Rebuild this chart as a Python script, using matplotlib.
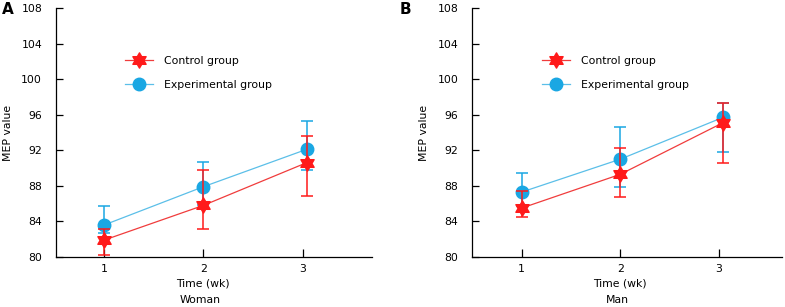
import numpy as np
import matplotlib
matplotlib.use("Agg")
import matplotlib.pyplot as plt
from matplotlib.path import Path
from matplotlib.lines import Line2D
import matplotlib.transforms as mtransforms

# ---- data ----
weeks = [1, 2, 3.04]
tick_weeks = [1, 2, 3]

# Panel A (Woman)
a_ctrl = [81.9, 85.8, 90.6]
a_ctrl_lo = [80.2, 83.1, 86.9]
a_ctrl_hi = [83.1, 89.8, 93.6]
a_exp = [83.6, 87.9, 92.1]
a_exp_lo = [82.7, 85.9, 89.8]
a_exp_hi = [85.7, 90.7, 95.3]

# Panel B (Man)
b_ctrl = [85.5, 89.3, 95.1]
b_ctrl_lo = [84.5, 86.8, 90.6]
b_ctrl_hi = [87.4, 92.3, 97.3]
b_exp = [87.3, 91.0, 95.7]
b_exp_lo = [85.7, 87.9, 91.8]
b_exp_hi = [89.4, 94.6, 97.3]

yticks = [80, 84, 88, 92, 96, 100, 104, 108]
series_labels = ["Control group", "Experimental group"]
panel_letters = ["A", "B"]
panel_names = ["Woman", "Man"]
xlabel = "Time (wk)"
ylabel = "MEP value"

RED = "#ff1a1a"
RED_LINE = "#f03c3c"
CYAN = "#1aa7e3"
CYAN_LINE = "#5bbfe8"

# hexagram marker
ang = np.deg2rad(90 + np.arange(12) * 30)
rad = np.where(np.arange(12) % 2 == 0, 1.0, 1 / np.sqrt(3))
verts = np.column_stack([rad * np.cos(ang), rad * np.sin(ang)])
verts = np.vstack([verts, verts[:1]])
codes = [Path.MOVETO] + [Path.LINETO] * 11 + [Path.CLOSEPOLY]
hexagram = Path(verts, codes)

plt.rcParams['font.family'] = ['DejaVu Sans']
plt.rcParams['font.size'] = 7.8

fig = plt.figure(figsize=(7.85, 3.07), dpi=100)
axA = fig.add_axes([56 / 785, 50 / 307, 316 / 785, 249 / 307])
axB = fig.add_axes([472.3 / 785, 50 / 307, 309.4 / 785, 249 / 307])

panels = [
    (axA, a_ctrl, a_ctrl_lo, a_ctrl_hi, a_exp, a_exp_lo, a_exp_hi, (0.515, 3.70), 0.218),
    (axB, b_ctrl, b_ctrl_lo, b_ctrl_hi, b_exp, b_exp_lo, b_exp_hi, (0.50, 3.635), 0.224),
]

for i, (ax, c, clo, chi, e, elo, ehi, xl, legx) in enumerate(panels):
    c = np.array(c); e = np.array(e)
    cerr = [c - np.array(clo), np.array(chi) - c]
    eerr = [e - np.array(elo), np.array(ehi) - e]
    ax.errorbar(weeks, e, yerr=eerr, color=CYAN_LINE, ecolor=CYAN, lw=0.9,
                elinewidth=1.1, capsize=4.5, capthick=1.1, marker='o',
                markersize=9, markerfacecolor=CYAN, markeredgecolor=CYAN,
                zorder=2)
    ax.errorbar(weeks, c, yerr=cerr, color=RED_LINE, ecolor=RED, lw=0.9,
                elinewidth=1.1, capsize=4.5, capthick=1.1, marker=hexagram,
                markersize=11, markerfacecolor=RED, markeredgecolor=RED,
                zorder=3)
    ax.set_xlim(*xl)
    ax.set_ylim(80, 108)
    ax.set_yticks(yticks)
    ax.set_xticks(tick_weeks)
    ax.spines['top'].set_visible(False)
    ax.spines['right'].set_visible(False)
    ax.spines['left'].set_linewidth(0.9)
    ax.spines['bottom'].set_linewidth(0.9)
    ax.tick_params(axis='y', direction='in', length=5, width=0.9, pad=10)
    ax.tick_params(axis='x', direction='in', length=6, width=0.9, pad=5)
    ax.set_ylabel(ylabel, labelpad=6)
    trans = mtransforms.blended_transform_factory(ax.transData, ax.transAxes)
    ax.text(2, -0.105, xlabel, transform=trans, ha='center', va='center')
    ax.text(1.97, -0.172, panel_names[i], transform=trans, ha='center', va='center')
    handles = [
        Line2D([], [], color=RED_LINE, lw=0.9, marker=hexagram, markersize=11,
               markerfacecolor=RED, markeredgecolor=RED),
        Line2D([], [], color=CYAN_LINE, lw=0.9, marker='o', markersize=9,
               markerfacecolor=CYAN, markeredgecolor=CYAN),
    ]
    ax.legend(handles, series_labels, loc='upper left',
              bbox_to_anchor=(legx, 0.807), frameon=False, handlelength=2.6,
              handletextpad=1.0, labelspacing=1.3, borderpad=0, borderaxespad=0)

fig.text(2 / 785, 1 - 10 / 307, panel_letters[0], fontsize=11, fontweight='bold',
         va='center', ha='left')
fig.text(400 / 785, 1 - 10 / 307, panel_letters[1], fontsize=11, fontweight='bold',
         va='center', ha='left')

fig.savefig("out.png", dpi=100)
